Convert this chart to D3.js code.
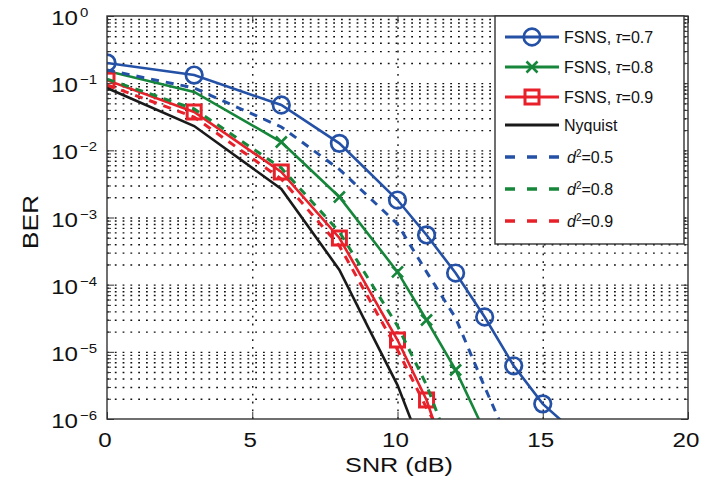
<!DOCTYPE html>
<html>
<head>
<meta charset="utf-8">
<style>
  body { margin: 0; background: #fff; }
  svg { display: block; font-family: 'Liberation Sans', Arial, sans-serif; }
  .grid line { stroke: #111; stroke-width: 1.4; stroke-dasharray: 1.8, 6; }
  .grid .domain, .ax .domain { display: none; }
  .ax line { stroke: #333; stroke-width: 1; }
</style>
</head>
<body>
<svg width="706" height="480"></svg>
<script src="https://d3js.org/d3.v7.min.js"></script>
<script>
// values (BER vs SNR in dB)
const tau07Snr = [0, 3, 6, 8, 10, 11, 12, 13, 14, 15, 16];
const tau07Ber = [0.2, 0.132, 0.0473, 0.0127, 1.82e-3, 5.5e-4, 1.49e-4, 3.3e-5, 6.2e-6, 1.68e-6, 6.9e-7];
const tau08Snr = [0, 3, 6, 8, 10, 11, 12, 13];
const tau08Ber = [0.152, 0.074, 0.0133, 2.02e-3, 1.55e-4, 2.98e-5, 5.37e-6, 6.5e-7];
const tau08Marks = [6, 8, 10, 11, 12, 13];
const tau09Snr = [0, 3, 6, 8, 10, 11, 12];
const tau09Ber = [0.111, 0.0372, 4.76e-3, 4.95e-4, 1.5e-5, 1.92e-6, 1.0e-7];
const nyqSnr = [0, 3, 6, 8, 9, 10, 11];
const nyqBer = [0.0848, 0.023, 2.66e-3, 1.66e-4, 2.27e-5, 3.2e-6, 2.45e-7];
const d05Snr = [0, 3, 6, 8, 10, 11, 12, 13, 14];
const d05Ber = [0.157, 0.0848, 0.0223, 5.2e-3, 8.0e-4, 1.55e-4, 3.2e-5, 3.0e-6, 3.1e-7];
const d08Snr = [0, 3, 6, 8, 10, 11, 12];
const d08Ber = [0.115, 0.0413, 5.46e-3, 6.1e-4, 2.43e-5, 3.2e-6, 2.3e-7];
const d09Snr = [0, 3, 6, 8, 10, 11, 12];
const d09Ber = [0.094, 0.0313, 3.74e-3, 3.77e-4, 1.07e-5, 1.46e-6, 2.5e-7];

const xTicks = [0, 5, 10, 15, 20];
const yExps = [0, -1, -2, -3, -4, -5, -6];

const blue = "#2451a6", green = "#16863a", red = "#e8202a", black = "#1a1a1a";

const series = [
  {name: "tau07", label: ["FSNS, ", "τ", "=0.7"], snr: tau07Snr, ber: tau07Ber, color: blue, dash: null, marker: "circle"},
  {name: "tau08", label: ["FSNS, ", "τ", "=0.8"], snr: tau08Snr, ber: tau08Ber, color: green, dash: null, marker: "x", marks: tau08Marks},
  {name: "tau09", label: ["FSNS, ", "τ", "=0.9"], snr: tau09Snr, ber: tau09Ber, color: red, dash: null, marker: "square"},
  {name: "nyq", label: ["Nyquist"], snr: nyqSnr, ber: nyqBer, color: black, dash: null, marker: null},
  {name: "d05", label: ["d", "2", "=0.5"], snr: d05Snr, ber: d05Ber, color: blue, dash: true, marker: null},
  {name: "d08", label: ["d", "2", "=0.8"], snr: d08Snr, ber: d08Ber, color: green, dash: true, marker: null},
  {name: "d09", label: ["d", "2", "=0.9"], snr: d09Snr, ber: d09Ber, color: red, dash: true, marker: null}
];

let svg = d3.select("svg");
let pLeft = 107, pTop = 16, pRight = 688, pBottom = 419;
let width = pRight - pLeft, height = pBottom - pTop;

let x = d3.scaleLinear().domain([0, 20]).range([pLeft, pRight]);
let y = d3.scaleLog().domain([1e-6, 1]).range([pBottom, pTop]);

let decades = yExps.map(e => Math.pow(10, e));
let minors = [];
yExps.slice(1).forEach(e => {
  for (let k = 2; k <= 9; k++) minors.push(k * Math.pow(10, e));
});

// grid
svg.append("g").attr("class", "grid")
  .attr("transform", `translate(${pLeft},0)`)
  .call(d3.axisLeft(y).tickValues(decades.concat(minors).filter(v => v < 1 && v > 1e-6)).tickSize(-width).tickFormat(""));
svg.append("g").attr("class", "grid")
  .attr("transform", `translate(0,${pBottom})`)
  .call(d3.axisBottom(x).tickValues([5, 10, 15]).tickSize(-height).tickFormat(""));

// inner ticks on all four sides
svg.append("g").attr("class", "ax").attr("transform", `translate(${pLeft},0)`)
  .call(d3.axisLeft(y).tickValues(decades).tickSize(-7).tickFormat(""));
svg.append("g").attr("class", "ax").attr("transform", `translate(${pLeft},0)`)
  .call(d3.axisLeft(y).tickValues(minors).tickSize(-4).tickFormat(""));
svg.append("g").attr("class", "ax").attr("transform", `translate(${pRight},0)`)
  .call(d3.axisRight(y).tickValues(decades).tickSize(-7).tickFormat(""));
svg.append("g").attr("class", "ax").attr("transform", `translate(${pRight},0)`)
  .call(d3.axisRight(y).tickValues(minors).tickSize(-4).tickFormat(""));
svg.append("g").attr("class", "ax").attr("transform", `translate(0,${pBottom})`)
  .call(d3.axisBottom(x).tickValues(xTicks).tickSize(-7).tickFormat(""));
svg.append("g").attr("class", "ax").attr("transform", `translate(0,${pTop})`)
  .call(d3.axisTop(x).tickValues(xTicks).tickSize(-7).tickFormat(""));

// stretched text helper (the figure's axis fonts are wide)
function stext(g, tx, ty, str, size, anchor, sx) {
  return g.append("text")
    .attr("transform", `translate(${tx},${ty}) scale(${sx},1)`)
    .attr("text-anchor", anchor)
    .attr("font-size", size)
    .attr("fill", "#111")
    .text(str);
}

// y tick labels 10^n
let ylab = svg.append("g");
yExps.forEach(e => {
  let ty = y(Math.pow(10, e));
  stext(ylab, 78, ty + 9, "10", 21, "end", 1.15);
  stext(ylab, 80, ty + 1, e === 0 ? "0" : "\u2212" + (-e), 13, "start", 1.15);
});

// x tick labels
xTicks.forEach(t => {
  stext(svg, x(t) - 2, 446.5, String(t), 21, "middle", 1.15);
});

stext(svg, 399, 471.5, "SNR (dB)", 21, "middle", 1.2);
svg.append("text")
  .attr("transform", `translate(38,222) rotate(-90) scale(1.2,1)`)
  .attr("text-anchor", "middle")
  .attr("font-size", 22)
  .attr("fill", "#111")
  .text("BER");

// curves
svg.append("clipPath").attr("id", "plot-clip")
  .append("rect").attr("x", pLeft).attr("y", pTop).attr("width", width).attr("height", height);

let plot = svg.append("g").attr("clip-path", "url(#plot-clip)");
let line = d3.line().x(d => x(d[0])).y(d => y(d[1]));

function drawMarker(g, type, cx, cy, color, s) {
  if (type === "circle") {
    g.append("circle").attr("cx", cx).attr("cy", cy).attr("r", 8.3 * s)
      .attr("fill", "none").attr("stroke", color).attr("stroke-width", 2.7);
  } else if (type === "square") {
    g.append("rect").attr("x", cx - 7 * s).attr("y", cy - 7 * s)
      .attr("width", 14 * s).attr("height", 14 * s)
      .attr("fill", "none").attr("stroke", color).attr("stroke-width", 3);
  } else if (type === "x") {
    let r = 5.5 * s;
    g.append("path").attr("d", `M${cx - r},${cy - r}L${cx + r},${cy + r}M${cx - r},${cy + r}L${cx + r},${cy - r}`)
      .attr("stroke", color).attr("stroke-width", 2.6);
  }
}

series.forEach(s => {
  let pts = s.snr.map((v, i) => [v, s.ber[i]]);
  plot.append("path")
    .attr("d", line(pts))
    .attr("fill", "none")
    .attr("stroke", s.color)
    .attr("stroke-width", s.dash ? 3 : 2.6)
    .attr("stroke-dasharray", s.dash ? "8,7" : null);
  if (s.marker) {
    pts.filter(p => !s.marks || s.marks.includes(p[0]))
      .forEach(p => drawMarker(plot, s.marker, x(p[0]), y(p[1]), s.color, 1));
  }
});

// axes box
svg.append("rect").attr("x", pLeft).attr("y", pTop).attr("width", width).attr("height", height)
  .attr("fill", "none").attr("stroke", "#333").attr("stroke-width", 1.4);

// legend
let leg = svg.append("g");
leg.append("rect").attr("x", 495).attr("y", 16).attr("width", 189).attr("height", 228)
  .attr("fill", "#fff").attr("stroke", "#333").attr("stroke-width", 1.4);
let rowY = [37, 67, 97, 125, 157, 189, 221];
series.forEach((s, i) => {
  let ry = rowY[i];
  leg.append("line").attr("x1", 505).attr("x2", 559).attr("y1", ry).attr("y2", ry)
    .attr("stroke", s.color).attr("stroke-width", s.dash ? 3.4 : 3)
    .attr("stroke-dasharray", s.dash ? "10,12" : null);
  if (s.marker) drawMarker(leg, s.marker, 532, ry, s.color, 1);
  let t = leg.append("text").attr("x", s.dash ? 567 : 564).attr("y", ry + 6)
    .attr("font-size", 16).attr("fill", "#111");
  if (s.dash) {
    t.append("tspan").attr("font-style", "italic").text(s.label[0]);
    t.append("tspan").attr("font-size", 10).attr("dy", -6).text(s.label[1]);
    t.append("tspan").attr("dy", 6).text(s.label[2]);
  } else if (s.label.length === 3) {
    t.append("tspan").text(s.label[0]);
    t.append("tspan").attr("font-style", "italic").text(s.label[1]);
    t.append("tspan").text(s.label[2]);
  } else {
    t.text(s.label[0]);
  }
});
</script>
</body>
</html>
